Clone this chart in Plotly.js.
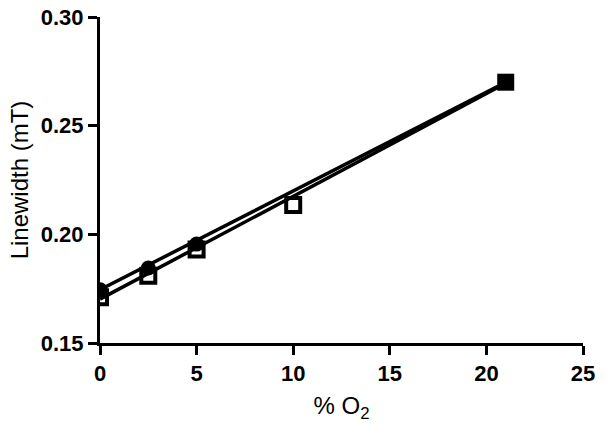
<!DOCTYPE html>
<html>
<head>
<meta charset="utf-8">
<script src="https://cdn.plot.ly/plotly-3.0.1.min.js"></script>
<style>
  html, body { margin: 0; padding: 0; background: #fff; }
  #chart { width: 609px; height: 428px; }
</style>
</head>
<body>
<div id="chart"></div>
<script>
// % O2 values and linewidths
const circleX = [0, 2.5, 5];
const circleY = [0.1745, 0.1845, 0.1955];
const squareX = [0, 2.5, 5, 10];
const squareY = [0.171, 0.181, 0.193, 0.2135];
const airX = [21];
const airY = [0.270];
// fitted lines (end points)
const fitX = [0, 21];
const fitCircleY = [0.1745, 0.2700];
const fitSquareY = [0.1702, 0.2695];
// tick labels
const xTicks = [0, 5, 10, 15, 20, 25];
const yTicks = [0.15, 0.20, 0.25, 0.30];
const yTickText = ['0.15', '0.20', '0.25', '0.30'];

const data = [
  { x: squareX, y: squareY, mode: 'markers',
    marker: { symbol: 'square', size: 14, color: '#fff', line: { color: '#000', width: 4 } } },
  { x: fitX, y: fitCircleY, mode: 'lines', line: { color: '#000', width: 3.5 }, hoverinfo: 'skip' },
  { x: fitX, y: fitSquareY, mode: 'lines', line: { color: '#000', width: 3.5 }, hoverinfo: 'skip' },
  { x: circleX, y: circleY, mode: 'markers', marker: { symbol: 'circle', size: 15, color: '#000' } },
  { x: airX, y: airY, mode: 'markers', marker: { symbol: 'square', size: 17, color: '#000' } }
];

const fontFam = 'Liberation Sans, Arial, sans-serif';

const layout = {
  width: 609,
  height: 428,
  margin: { l: 100, r: 26, t: 17, b: 85 },
  paper_bgcolor: '#fff',
  plot_bgcolor: '#fff',
  showlegend: false,
  xaxis: {
    range: [0, 25],
    tickvals: xTicks,
    ticktext: xTicks.map(v => '<b>' + v + '</b>'),
    ticks: 'outside', ticklen: 9, tickwidth: 3, tickcolor: '#000',
    showline: true, linewidth: 3, linecolor: '#000',
    showgrid: false, zeroline: false,
    tickfont: { family: fontFam, size: 22, color: '#000' },
    title: { text: '% O<sub>2</sub>', font: { family: fontFam, size: 24, color: '#000' }, standoff: 12 }
  },
  yaxis: {
    range: [0.15, 0.30],
    tickvals: yTicks,
    ticktext: yTickText.map(t => '<b>' + t + '</b>'),
    ticks: 'outside', ticklen: 9, tickwidth: 3, tickcolor: '#000',
    showline: true, linewidth: 3, linecolor: '#000',
    showgrid: false, zeroline: false,
    tickfont: { family: fontFam, size: 22, color: '#000' },
    title: { text: 'Linewidth (mT)', font: { family: fontFam, size: 24, color: '#000' }, standoff: 6 }
  }
};

Plotly.newPlot('chart', data, layout, { displayModeBar: false, staticPlot: true });
</script>
</body>
</html>
